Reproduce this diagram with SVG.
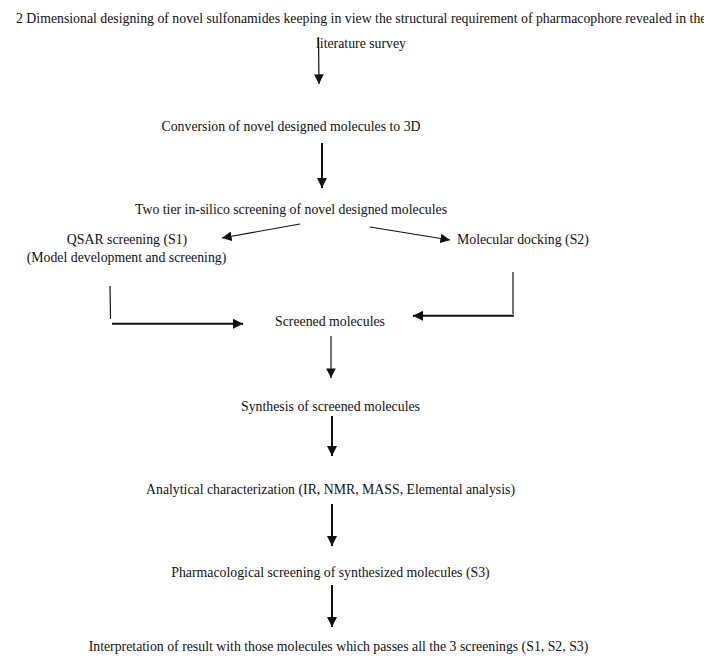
<svg xmlns="http://www.w3.org/2000/svg" width="704" height="659" viewBox="0 0 704 659">
<style>
text{font-family:"Liberation Serif","Times New Roman",serif;font-size:13.8px;fill:#111}
.c{text-anchor:middle}
.thin{stroke:#111;stroke-width:1.2;fill:none}
.thick{stroke:#111;stroke-width:2;fill:none}
</style>
<defs>
<marker id="ah" viewBox="0 0 10 10" refX="10" refY="5" markerWidth="5" markerHeight="5" markerUnits="strokeWidth" orient="auto"><path d="M0,0L10,5L0,10z" fill="#111"/></marker>
<marker id="ah2" viewBox="0 0 10 10" refX="10" refY="5" markerWidth="8" markerHeight="8" markerUnits="strokeWidth" orient="auto"><path d="M0,0L10,5L0,10z" fill="#111"/></marker>
</defs>
<rect width="704" height="659" fill="#fff"/>
<g id="n1"><text x="16" y="23">2 Dimensional designing of novel sulfonamides keeping in view the structural requirement of pharmacophore revealed in the</text><text x="316" y="48">literature survey</text></g>
<g id="n2"><text class="c" x="291" y="131">Conversion of novel designed molecules to 3D</text></g>
<g id="n3"><text class="c" x="291" y="214">Two tier in-silico screening of novel designed molecules</text></g>
<g id="n4"><text class="c" x="127" y="244">QSAR screening (S1)</text><text class="c" x="126.5" y="262">(Model development and screening)</text></g>
<g id="n5"><text x="457" y="244">Molecular docking (S2)</text></g>
<g id="n6"><text class="c" x="330" y="326">Screened molecules</text></g>
<g id="n7"><text class="c" x="330.5" y="411">Synthesis of screened molecules</text></g>
<g id="n8"><text class="c" x="330.5" y="494">Analytical characterization (IR, NMR, MASS, Elemental analysis)</text></g>
<g id="n9"><text class="c" x="330.5" y="577">Pharmacological screening of synthesized molecules (S3)</text></g>
<g id="n10"><text class="c" x="338.5" y="651">Interpretation of result with those molecules which passes all the 3 screenings (S1, S2, S3)</text></g>
<g id="connectors">
<line class="thin" x1="318.5" y1="37" x2="319" y2="84" marker-end="url(#ah2)"/>
<line class="thick" x1="322" y1="143" x2="322" y2="188" marker-end="url(#ah)"/>
<line class="thin" x1="300" y1="224" x2="222" y2="238" marker-end="url(#ah2)"/>
<line class="thin" x1="370" y1="227" x2="450" y2="240" marker-end="url(#ah2)"/>
<line class="thin" x1="110" y1="286" x2="110.5" y2="319"/>
<line class="thick" x1="112" y1="323.7" x2="243" y2="323.7" marker-end="url(#ah)"/>
<line class="thin" x1="513" y1="272" x2="513" y2="314"/>
<line class="thick" x1="514" y1="315.7" x2="413" y2="315.7" marker-end="url(#ah)"/>
<line class="thin" x1="331" y1="336" x2="331" y2="378" marker-end="url(#ah2)"/>
<line class="thick" x1="332" y1="416" x2="332" y2="456" marker-end="url(#ah)"/>
<line class="thick" x1="332" y1="504" x2="332" y2="546" marker-end="url(#ah)"/>
<line class="thick" x1="332" y1="585" x2="332" y2="627" marker-end="url(#ah)"/>
</g>
</svg>
